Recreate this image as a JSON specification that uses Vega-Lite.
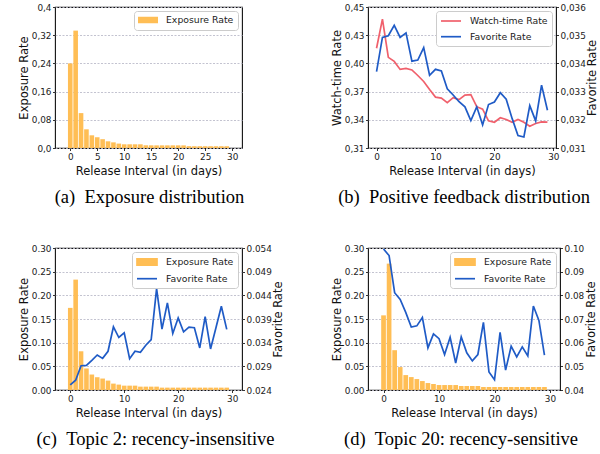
{
  "$schema": "https://vega.github.io/schema/vega-lite/v6.json",
  "background": "white",
  "padding": {"left": 17, "top": 2, "right": 0, "bottom": 3},
  "columns": 2,
  "bounds": "flush",
  "align": "each",
  "spacing": {"row": 100, "column": 126},
  "resolve": {"scale": {"color": "independent"}, "legend": {"color": "independent"}},
  "config": {
    "view": {"stroke": "#111111", "strokeWidth": 1.1},
    "axis": {"domain": false, "tickColor": "#000000", "tickSize": 2.5, "tickWidth": 0.8, "labelFont": "DejaVu Sans", "labelFontSize": 8.9, "labelColor": "#222222", "labelPadding": 1.5, "labelFlush": false, "labelOverlap": false, "labelBound": false, "titleFont": "DejaVu Sans", "titleFontSize": 11.5, "titleFontWeight": "normal", "titleColor": "#111111", "titlePadding": 2, "gridColor": "#bcbccb", "gridDash": [2, 1.5], "gridWidth": 0.9},
    "axisX": {"grid": false, "titlePadding": 5},
    "axisRight": {"titleAngle": 270, "titleBaseline": "top", "titlePadding": 1.5},
    "legend": {"orient": "top-right", "offset": 4, "padding": 4, "fillColor": "white", "strokeColor": "#cccccc", "cornerRadius": 3, "labelFont": "DejaVu Sans", "labelFontSize": 9.3, "labelColor": "#222222", "symbolSize": 100, "symbolStrokeWidth": 1.7, "rowPadding": 3.7, "labelOffset": 18, "title": null},
    "title": {"orient": "bottom", "anchor": "middle", "frame": "group", "font": "Liberation Serif", "fontSize": 18.5, "fontWeight": "normal", "color": "#000000", "offset": 11}
  },
  "datasets": {
    "expA": [
      {"day": 0, "rate": 0.24, "series": "Exposure Rate"}, {"day": 1, "rate": 0.333, "series": "Exposure Rate"}, {"day": 2, "rate": 0.099, "series": "Exposure Rate"}, {"day": 3, "rate": 0.053, "series": "Exposure Rate"}, {"day": 4, "rate": 0.036, "series": "Exposure Rate"}, {"day": 5, "rate": 0.0305, "series": "Exposure Rate"}, {"day": 6, "rate": 0.025, "series": "Exposure Rate"}, {"day": 7, "rate": 0.019, "series": "Exposure Rate"}, {"day": 8, "rate": 0.016, "series": "Exposure Rate"}, {"day": 9, "rate": 0.0125, "series": "Exposure Rate"},
      {"day": 10, "rate": 0.0105, "series": "Exposure Rate"}, {"day": 11, "rate": 0.0105, "series": "Exposure Rate"}, {"day": 12, "rate": 0.0105, "series": "Exposure Rate"}, {"day": 13, "rate": 0.0105, "series": "Exposure Rate"}, {"day": 14, "rate": 0.0077, "series": "Exposure Rate"}, {"day": 15, "rate": 0.0076, "series": "Exposure Rate"}, {"day": 16, "rate": 0.0075, "series": "Exposure Rate"}, {"day": 17, "rate": 0.0075, "series": "Exposure Rate"}, {"day": 18, "rate": 0.0075, "series": "Exposure Rate"}, {"day": 19, "rate": 0.0075, "series": "Exposure Rate"},
      {"day": 20, "rate": 0.0075, "series": "Exposure Rate"}, {"day": 21, "rate": 0.0074, "series": "Exposure Rate"}, {"day": 22, "rate": 0.0052, "series": "Exposure Rate"}, {"day": 23, "rate": 0.005, "series": "Exposure Rate"}, {"day": 24, "rate": 0.005, "series": "Exposure Rate"}, {"day": 25, "rate": 0.005, "series": "Exposure Rate"}, {"day": 26, "rate": 0.005, "series": "Exposure Rate"}, {"day": 27, "rate": 0.005, "series": "Exposure Rate"}, {"day": 28, "rate": 0.005, "series": "Exposure Rate"}, {"day": 29, "rate": 0.005, "series": "Exposure Rate"}
    ],
    "wtB": [
      {"day": 0, "rate": 0.409, "series": "Watch-time Rate"}, {"day": 1, "rate": 0.438, "series": "Watch-time Rate"}, {"day": 2, "rate": 0.4, "series": "Watch-time Rate"}, {"day": 3, "rate": 0.396, "series": "Watch-time Rate"}, {"day": 4, "rate": 0.388, "series": "Watch-time Rate"}, {"day": 5, "rate": 0.389, "series": "Watch-time Rate"}, {"day": 6, "rate": 0.3875, "series": "Watch-time Rate"}, {"day": 7, "rate": 0.382, "series": "Watch-time Rate"}, {"day": 8, "rate": 0.376, "series": "Watch-time Rate"}, {"day": 9, "rate": 0.368, "series": "Watch-time Rate"},
      {"day": 10, "rate": 0.3605, "series": "Watch-time Rate"}, {"day": 11, "rate": 0.3596, "series": "Watch-time Rate"}, {"day": 12, "rate": 0.355, "series": "Watch-time Rate"}, {"day": 13, "rate": 0.36, "series": "Watch-time Rate"}, {"day": 14, "rate": 0.358, "series": "Watch-time Rate"}, {"day": 15, "rate": 0.3625, "series": "Watch-time Rate"}, {"day": 16, "rate": 0.363, "series": "Watch-time Rate"}, {"day": 17, "rate": 0.351, "series": "Watch-time Rate"}, {"day": 18, "rate": 0.3486, "series": "Watch-time Rate"}, {"day": 19, "rate": 0.337, "series": "Watch-time Rate"},
      {"day": 20, "rate": 0.3356, "series": "Watch-time Rate"}, {"day": 21, "rate": 0.34, "series": "Watch-time Rate"}, {"day": 22, "rate": 0.3383, "series": "Watch-time Rate"}, {"day": 23, "rate": 0.3356, "series": "Watch-time Rate"}, {"day": 24, "rate": 0.3383, "series": "Watch-time Rate"}, {"day": 25, "rate": 0.3356, "series": "Watch-time Rate"}, {"day": 26, "rate": 0.3316, "series": "Watch-time Rate"}, {"day": 27, "rate": 0.3343, "series": "Watch-time Rate"}, {"day": 28, "rate": 0.336, "series": "Watch-time Rate"}, {"day": 29, "rate": 0.3356, "series": "Watch-time Rate"}
    ],
    "favB": [
      {"day": 0, "rate": 0.03371, "series": "Favorite Rate"}, {"day": 1, "rate": 0.03492, "series": "Favorite Rate"}, {"day": 2, "rate": 0.03498, "series": "Favorite Rate"}, {"day": 3, "rate": 0.03535, "series": "Favorite Rate"}, {"day": 4, "rate": 0.03492, "series": "Favorite Rate"}, {"day": 5, "rate": 0.03508, "series": "Favorite Rate"}, {"day": 6, "rate": 0.03408, "series": "Favorite Rate"}, {"day": 7, "rate": 0.03412, "series": "Favorite Rate"}, {"day": 8, "rate": 0.03456, "series": "Favorite Rate"}, {"day": 9, "rate": 0.03358, "series": "Favorite Rate"},
      {"day": 10, "rate": 0.03379, "series": "Favorite Rate"}, {"day": 11, "rate": 0.03373, "series": "Favorite Rate"}, {"day": 12, "rate": 0.0331, "series": "Favorite Rate"}, {"day": 13, "rate": 0.03288, "series": "Favorite Rate"}, {"day": 14, "rate": 0.03264, "series": "Favorite Rate"}, {"day": 15, "rate": 0.03246, "series": "Favorite Rate"}, {"day": 16, "rate": 0.03197, "series": "Favorite Rate"}, {"day": 17, "rate": 0.03246, "series": "Favorite Rate"}, {"day": 18, "rate": 0.03182, "series": "Favorite Rate"}, {"day": 19, "rate": 0.03254, "series": "Favorite Rate"},
      {"day": 20, "rate": 0.03263, "series": "Favorite Rate"}, {"day": 21, "rate": 0.03296, "series": "Favorite Rate"}, {"day": 22, "rate": 0.03273, "series": "Favorite Rate"}, {"day": 23, "rate": 0.03205, "series": "Favorite Rate"}, {"day": 24, "rate": 0.03144, "series": "Favorite Rate"}, {"day": 25, "rate": 0.03139, "series": "Favorite Rate"}, {"day": 26, "rate": 0.0325, "series": "Favorite Rate"}, {"day": 27, "rate": 0.03196, "series": "Favorite Rate"}, {"day": 28, "rate": 0.03323, "series": "Favorite Rate"}, {"day": 29, "rate": 0.03234, "series": "Favorite Rate"}
    ],
    "expC": [
      {"day": 0, "rate": 0.1735, "series": "Exposure Rate"}, {"day": 1, "rate": 0.2332, "series": "Exposure Rate"}, {"day": 2, "rate": 0.0818, "series": "Exposure Rate"}, {"day": 3, "rate": 0.0455, "series": "Exposure Rate"}, {"day": 4, "rate": 0.0327, "series": "Exposure Rate"}, {"day": 5, "rate": 0.027, "series": "Exposure Rate"}, {"day": 6, "rate": 0.0242, "series": "Exposure Rate"}, {"day": 7, "rate": 0.0199, "series": "Exposure Rate"}, {"day": 8, "rate": 0.0135, "series": "Exposure Rate"}, {"day": 9, "rate": 0.0114, "series": "Exposure Rate"},
      {"day": 10, "rate": 0.0092, "series": "Exposure Rate"}, {"day": 11, "rate": 0.0092, "series": "Exposure Rate"}, {"day": 12, "rate": 0.0092, "series": "Exposure Rate"}, {"day": 13, "rate": 0.0071, "series": "Exposure Rate"}, {"day": 14, "rate": 0.0071, "series": "Exposure Rate"}, {"day": 15, "rate": 0.0071, "series": "Exposure Rate"}, {"day": 16, "rate": 0.0071, "series": "Exposure Rate"}, {"day": 17, "rate": 0.005, "series": "Exposure Rate"}, {"day": 18, "rate": 0.005, "series": "Exposure Rate"}, {"day": 19, "rate": 0.005, "series": "Exposure Rate"},
      {"day": 20, "rate": 0.005, "series": "Exposure Rate"}, {"day": 21, "rate": 0.005, "series": "Exposure Rate"}, {"day": 22, "rate": 0.005, "series": "Exposure Rate"}, {"day": 23, "rate": 0.005, "series": "Exposure Rate"}, {"day": 24, "rate": 0.005, "series": "Exposure Rate"}, {"day": 25, "rate": 0.005, "series": "Exposure Rate"}, {"day": 26, "rate": 0.005, "series": "Exposure Rate"}, {"day": 27, "rate": 0.005, "series": "Exposure Rate"}, {"day": 28, "rate": 0.005, "series": "Exposure Rate"}, {"day": 29, "rate": 0.005, "series": "Exposure Rate"}
    ],
    "favC": [
      {"day": 0, "rate": 0.02507, "series": "Favorite Rate"}, {"day": 1, "rate": 0.02606, "series": "Favorite Rate"}, {"day": 2, "rate": 0.02912, "series": "Favorite Rate"}, {"day": 3, "rate": 0.02919, "series": "Favorite Rate"}, {"day": 4, "rate": 0.03026, "series": "Favorite Rate"}, {"day": 5, "rate": 0.03139, "series": "Favorite Rate"}, {"day": 6, "rate": 0.03068, "series": "Favorite Rate"}, {"day": 7, "rate": 0.03218, "series": "Favorite Rate"}, {"day": 8, "rate": 0.03736, "series": "Favorite Rate"}, {"day": 9, "rate": 0.03509, "series": "Favorite Rate"},
      {"day": 10, "rate": 0.03609, "series": "Favorite Rate"}, {"day": 11, "rate": 0.03061, "series": "Favorite Rate"}, {"day": 12, "rate": 0.03218, "series": "Favorite Rate"}, {"day": 13, "rate": 0.03196, "series": "Favorite Rate"}, {"day": 14, "rate": 0.03345, "series": "Favorite Rate"}, {"day": 15, "rate": 0.03466, "series": "Favorite Rate"}, {"day": 16, "rate": 0.0454, "series": "Favorite Rate"}, {"day": 17, "rate": 0.03687, "series": "Favorite Rate"}, {"day": 18, "rate": 0.04241, "series": "Favorite Rate"}, {"day": 19, "rate": 0.03594, "series": "Favorite Rate"},
      {"day": 20, "rate": 0.03921, "series": "Favorite Rate"}, {"day": 21, "rate": 0.0363, "series": "Favorite Rate"}, {"day": 22, "rate": 0.03729, "series": "Favorite Rate"}, {"day": 23, "rate": 0.03715, "series": "Favorite Rate"}, {"day": 24, "rate": 0.03289, "series": "Favorite Rate"}, {"day": 25, "rate": 0.0395, "series": "Favorite Rate"}, {"day": 26, "rate": 0.03267, "series": "Favorite Rate"}, {"day": 27, "rate": 0.03715, "series": "Favorite Rate"}, {"day": 28, "rate": 0.0417, "series": "Favorite Rate"}, {"day": 29, "rate": 0.0368, "series": "Favorite Rate"}
    ],
    "expD": [
      {"day": 0, "rate": 0.1577, "series": "Exposure Rate"}, {"day": 1, "rate": 0.267, "series": "Exposure Rate"}, {"day": 2, "rate": 0.0841, "series": "Exposure Rate"}, {"day": 3, "rate": 0.0484, "series": "Exposure Rate"}, {"day": 4, "rate": 0.0315, "series": "Exposure Rate"}, {"day": 5, "rate": 0.0273, "series": "Exposure Rate"}, {"day": 6, "rate": 0.0231, "series": "Exposure Rate"}, {"day": 7, "rate": 0.0189, "series": "Exposure Rate"}, {"day": 8, "rate": 0.0147, "series": "Exposure Rate"}, {"day": 9, "rate": 0.0126, "series": "Exposure Rate"},
      {"day": 10, "rate": 0.0105, "series": "Exposure Rate"}, {"day": 11, "rate": 0.0105, "series": "Exposure Rate"}, {"day": 12, "rate": 0.0105, "series": "Exposure Rate"}, {"day": 13, "rate": 0.0105, "series": "Exposure Rate"}, {"day": 14, "rate": 0.0084, "series": "Exposure Rate"}, {"day": 15, "rate": 0.0084, "series": "Exposure Rate"}, {"day": 16, "rate": 0.0084, "series": "Exposure Rate"}, {"day": 17, "rate": 0.0084, "series": "Exposure Rate"}, {"day": 18, "rate": 0.0063, "series": "Exposure Rate"}, {"day": 19, "rate": 0.0063, "series": "Exposure Rate"},
      {"day": 20, "rate": 0.0063, "series": "Exposure Rate"}, {"day": 21, "rate": 0.0063, "series": "Exposure Rate"}, {"day": 22, "rate": 0.0063, "series": "Exposure Rate"}, {"day": 23, "rate": 0.0063, "series": "Exposure Rate"}, {"day": 24, "rate": 0.0063, "series": "Exposure Rate"}, {"day": 25, "rate": 0.0063, "series": "Exposure Rate"}, {"day": 26, "rate": 0.0063, "series": "Exposure Rate"}, {"day": 27, "rate": 0.0063, "series": "Exposure Rate"}, {"day": 28, "rate": 0.0063, "series": "Exposure Rate"}, {"day": 29, "rate": 0.0063, "series": "Exposure Rate"}
    ],
    "favD": [
      {"day": 0, "rate": 0.0996, "series": "Favorite Rate"}, {"day": 1, "rate": 0.0968, "series": "Favorite Rate"}, {"day": 2, "rate": 0.0811, "series": "Favorite Rate"}, {"day": 3, "rate": 0.0783, "series": "Favorite Rate"}, {"day": 4, "rate": 0.0728, "series": "Favorite Rate"}, {"day": 5, "rate": 0.0666, "series": "Favorite Rate"}, {"day": 6, "rate": 0.0671, "series": "Favorite Rate"}, {"day": 7, "rate": 0.0706, "series": "Favorite Rate"}, {"day": 8, "rate": 0.0578, "series": "Favorite Rate"}, {"day": 9, "rate": 0.0637, "series": "Favorite Rate"},
      {"day": 10, "rate": 0.0617, "series": "Favorite Rate"}, {"day": 11, "rate": 0.055, "series": "Favorite Rate"}, {"day": 12, "rate": 0.0623, "series": "Favorite Rate"}, {"day": 13, "rate": 0.0514, "series": "Favorite Rate"}, {"day": 14, "rate": 0.0624, "series": "Favorite Rate"}, {"day": 15, "rate": 0.0557, "series": "Favorite Rate"}, {"day": 16, "rate": 0.0523, "series": "Favorite Rate"}, {"day": 17, "rate": 0.055, "series": "Favorite Rate"}, {"day": 18, "rate": 0.0686, "series": "Favorite Rate"}, {"day": 19, "rate": 0.0476, "series": "Favorite Rate"},
      {"day": 20, "rate": 0.0443, "series": "Favorite Rate"}, {"day": 21, "rate": 0.0644, "series": "Favorite Rate"}, {"day": 22, "rate": 0.0484, "series": "Favorite Rate"}, {"day": 23, "rate": 0.0585, "series": "Favorite Rate"}, {"day": 24, "rate": 0.054, "series": "Favorite Rate"}, {"day": 25, "rate": 0.0582, "series": "Favorite Rate"}, {"day": 26, "rate": 0.0544, "series": "Favorite Rate"}, {"day": 27, "rate": 0.0755, "series": "Favorite Rate"}, {"day": 28, "rate": 0.0694, "series": "Favorite Rate"}, {"day": 29, "rate": 0.0547, "series": "Favorite Rate"}
    ]
  },
  "concat": [
    {
      "width": 187, "height": 141,
      "title": {"text": "(a)\u2002Exposure distribution", "dx": 1},
      "data": {"name": "expA"},
      "mark": {"type": "bar", "width": 4.6},
      "encoding": {
        "x": {"field": "day", "type": "quantitative", "scale": {"domain": [-1.9, 30.9], "nice": false, "zero": false}, "axis": {"values": [0, 5, 10, 15, 20, 25, 30], "title": "Release Interval (in days)"}},
        "y": {"field": "rate", "type": "quantitative", "scale": {"domain": [0, 0.4], "nice": false}, "axis": {"values": [0, 0.08, 0.16, 0.24, 0.32, 0.4], "grid": true, "title": "Exposure Rate", "labelExpr": "datum.value == 0 ? '0,0' : datum.value > 0.39 ? '0,4' : replace(format(datum.value, '.2f'), '.', ',')"}},
        "color": {"field": "series", "type": "nominal", "scale": {"domain": ["Exposure Rate"], "range": ["#FFBE55"]}, "legend": {"symbolType": "M-1,-0.65H3V0.65H-1Z", "symbolStrokeWidth": 0}}
      }
    },
    {
      "width": 188, "height": 141,
      "title": {"text": "(b)\u2002Positive feedback distribution", "dx": 2},
      "layer": [
        {
          "data": {"name": "wtB"},
          "mark": {"type": "line", "strokeWidth": 1.7},
          "encoding": {
            "x": {"field": "day", "type": "quantitative", "scale": {"domain": [-1.45, 30.45], "nice": false, "zero": false}, "axis": {"values": [0, 5, 10, 15, 20, 25, 30], "title": "Release Interval (in days)"}},
            "y": {"field": "rate", "type": "quantitative", "scale": {"domain": [0.31, 0.45], "nice": false, "zero": false}, "axis": {"values": [0.31, 0.338, 0.366, 0.394, 0.422, 0.45], "grid": true, "title": "Watch-time Rate", "labelExpr": "datum.value < 0.32 ? '0,31' : datum.value < 0.35 ? '0,34' : datum.value < 0.38 ? '0,37' : datum.value < 0.41 ? '0,40' : datum.value < 0.44 ? '0,43' : '0,45'"}},
            "color": {"field": "series", "type": "nominal", "scale": {"domain": ["Watch-time Rate", "Favorite Rate"], "range": ["#F0606C", "#1F5BC6"]}, "legend": {"symbolType": "M-1,0H3"}}
          }
        },
        {
          "data": {"name": "favB"},
          "mark": {"type": "line", "strokeWidth": 1.7},
          "encoding": {
            "x": {"field": "day", "type": "quantitative"},
            "y": {"field": "rate", "type": "quantitative", "scale": {"domain": [0.031, 0.036], "nice": false, "zero": false}, "axis": {"orient": "right", "values": [0.031, 0.032, 0.033, 0.034, 0.035, 0.036], "grid": false, "title": "Favorite Rate", "labelExpr": "replace(format(datum.value, '.3f'), '.', ',')"}},
            "color": {"field": "series", "type": "nominal"}
          }
        }
      ],
      "resolve": {"scale": {"y": "independent"}}
    },
    {
      "width": 187, "height": 142,
      "title": {"text": "(c)\u2002Topic 2: recency-insensitive", "dx": 7},
      "layer": [
        {
          "data": {"name": "expC"},
          "mark": {"type": "bar", "width": 4.6},
          "encoding": {
            "x": {"field": "day", "type": "quantitative", "scale": {"domain": [-1.9, 30.9], "nice": false, "zero": false}, "axis": {"values": [0, 5, 10, 15, 20, 25, 30], "title": "Release Interval (in days)"}},
            "y": {"field": "rate", "type": "quantitative", "scale": {"domain": [0, 0.3], "nice": false}, "axis": {"values": [0, 0.05, 0.1, 0.15, 0.2, 0.25, 0.3], "format": ".2f", "grid": true, "title": "Exposure Rate"}},
            "color": {"field": "series", "type": "nominal", "scale": {"domain": ["Exposure Rate", "Favorite Rate"], "range": ["#FFBE55", "#1F5BC6"]}, "legend": {"encoding": {"symbols": {"shape": {"value": {"expr": "datum.value === 'Exposure Rate' ? 'M-1,-0.65H3V0.65H-1Z' : 'M-1,0H3'"}}, "fill": {"value": {"expr": "datum.value === 'Exposure Rate' ? '#FFBE55' : 'transparent'"}}, "stroke": {"value": {"expr": "datum.value === 'Exposure Rate' ? 'transparent' : '#1F5BC6'"}}, "strokeWidth": {"value": 1.7}}}}}
          }
        },
        {
          "data": {"name": "favC"},
          "mark": {"type": "line", "strokeWidth": 1.7},
          "encoding": {
            "x": {"field": "day", "type": "quantitative"},
            "y": {"field": "rate", "type": "quantitative", "scale": {"domain": [0.024, 0.054], "nice": false, "zero": false}, "axis": {"orient": "right", "values": [0.024, 0.029, 0.034, 0.039, 0.044, 0.049, 0.054], "format": ".3f", "grid": false, "title": "Favorite Rate"}},
            "color": {"field": "series", "type": "nominal"}
          }
        }
      ],
      "resolve": {"scale": {"y": "independent"}}
    },
    {
      "width": 192, "height": 142,
      "title": {"text": "(d)\u2002Topic 20: recency-sensitive", "dx": -3},
      "layer": [
        {
          "data": {"name": "expD"},
          "mark": {"type": "bar", "width": 4.7},
          "encoding": {
            "x": {"field": "day", "type": "quantitative", "scale": {"domain": [-1.9, 30.9], "nice": false, "zero": false}, "axis": {"values": [0, 5, 10, 15, 20, 25, 30], "title": "Release Interval (in days)"}},
            "y": {"field": "rate", "type": "quantitative", "scale": {"domain": [0, 0.3], "nice": false}, "axis": {"values": [0, 0.05, 0.1, 0.15, 0.2, 0.25, 0.3], "format": ".2f", "grid": true, "title": "Exposure Rate"}},
            "color": {"field": "series", "type": "nominal", "scale": {"domain": ["Exposure Rate", "Favorite Rate"], "range": ["#FFBE55", "#1F5BC6"]}, "legend": {"encoding": {"symbols": {"shape": {"value": {"expr": "datum.value === 'Exposure Rate' ? 'M-1,-0.65H3V0.65H-1Z' : 'M-1,0H3'"}}, "fill": {"value": {"expr": "datum.value === 'Exposure Rate' ? '#FFBE55' : 'transparent'"}}, "stroke": {"value": {"expr": "datum.value === 'Exposure Rate' ? 'transparent' : '#1F5BC6'"}}, "strokeWidth": {"value": 1.7}}}}}
          }
        },
        {
          "data": {"name": "favD"},
          "mark": {"type": "line", "strokeWidth": 1.7},
          "encoding": {
            "x": {"field": "day", "type": "quantitative"},
            "y": {"field": "rate", "type": "quantitative", "scale": {"domain": [0.04, 0.1], "nice": false, "zero": false}, "axis": {"orient": "right", "values": [0.04, 0.05, 0.06, 0.07, 0.08, 0.09, 0.1], "format": ".2f", "grid": false, "title": "Favorite Rate"}},
            "color": {"field": "series", "type": "nominal"}
          }
        }
      ],
      "resolve": {"scale": {"y": "independent"}}
    }
  ]
}
